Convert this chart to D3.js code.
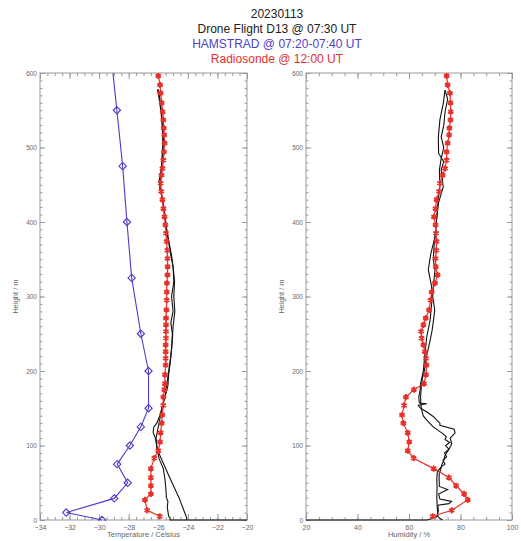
<!DOCTYPE html>
<html>
<head>
<meta charset="utf-8">
<script src="https://cdn.jsdelivr.net/npm/d3@7"></script>
<style>
  body { margin: 0; background: #fff; }
  text { font-family: "Liberation Sans", Arial, sans-serif; }
</style>
</head>
<body>
<script>
// --- data ---
const titleLines = ["20230113", "Drone Flight D13 @ 07:30 UT", "HAMSTRAD @ 07:20-07:40 UT", "Radiosonde @ 12:00 UT"];
const titleColors = ["#222", "#222", "#5140c8", "#e2302c"];

const tempTicks = [-34, -32, -30, -28, -26, -24, -22, -20];
const humTicks = [20, 40, 60, 80, 100];
const heightTicks = [0, 100, 200, 300, 400, 500, 600];

// HAMSTRAD temperature profile
const hamHeight = [0, 10, 29, 50, 75, 100, 125, 150, 200, 250, 325, 400, 475, 550, 625];
const hamTemp = [-29.8, -32.22, -28.98, -28.07, -28.78, -27.92, -27.18, -26.66, -26.66, -27.18, -27.8, -28.12, -28.41, -28.8, -29.2];

// Radiosonde
const rsHeight = [5, 13, 27, 35, 46, 57, 69, 83, 93, 105, 117, 130, 141, 154, 165, 175, 183, 195, 208, 217, 226, 235, 244, 253, 262, 271, 282, 295, 306, 318, 329, 340, 351, 362, 374, 385, 396, 407, 418, 430, 441, 452, 463, 472, 483, 494, 506, 517, 526, 537, 548, 560, 573, 584, 596, 608];
const rsTemp = [-25.9, -26.75, -26.9, -26.5, -26.5, -26.5, -26.5, -26.27, -26.0, -25.88, -25.84, -25.77, -25.73, -25.66, -25.66, -25.59, -25.55, -25.55, -25.5, -25.5, -25.5, -25.5, -25.48, -25.48, -25.48, -25.48, -25.45, -25.43, -25.43, -25.42, -25.38, -25.37, -25.38, -25.39, -25.44, -25.48, -25.52, -25.58, -25.65, -25.72, -25.8, -25.84, -25.78, -25.72, -25.66, -25.62, -25.57, -25.6, -25.63, -25.66, -25.7, -25.77, -25.84, -25.88, -26.0, -26.05];
const rsHum = [69.2, 76.6, 82.8, 81.4, 78.3, 75.5, 69.6, 61.8, 59.5, 60.1, 59.5, 57.8, 57.3, 58.1, 58.8, 61.9, 65.8, 66.6, 66.8, 66.6, 66.2, 65.6, 64.9, 64.7, 65.6, 66.5, 67.8, 68.4, 68.8, 70.1, 71.1, 70.4, 70.3, 70.6, 70.7, 70.5, 70.3, 69.7, 70.3, 70.7, 71.7, 72.0, 73.1, 74.0, 74.6, 74.6, 75.0, 75.6, 75.7, 76.1, 76.2, 76.1, 75.9, 75.0, 74.6, 74.2];

// Drone temperature, ascent and descent
const dTempUpH = [0, 0, 3, 5, 17, 25, 30, 40, 55, 69, 82, 92, 100, 110, 118, 125, 130, 140, 150, 165, 180, 195, 210, 230, 250, 265, 280, 300, 320, 340, 355, 370, 390, 410, 430, 445, 452, 470, 500, 520, 545, 560, 578];
const dTempUp = [-20, -25.2, -25.2, -25.3, -25.39, -25.35, -25.45, -25.48, -25.55, -25.66, -25.94, -26.05, -26.1, -26.2, -26.35, -26.3, -26.1, -25.9, -25.75, -25.55, -25.35, -25.3, -25.2, -25.1, -25.05, -25.15, -25.0, -25.1, -24.95, -25.0, -25.1, -25.25, -25.45, -25.55, -25.7, -25.9, -25.85, -25.8, -25.7, -25.7, -25.8, -25.9, -26.05];
const dTempDnH = [578, 560, 540, 515, 495, 470, 455, 440, 420, 400, 380, 360, 340, 320, 300, 280, 260, 240, 220, 200, 185, 170, 155, 140, 125, 110, 96, 60, 30, 3, 0];
const dTempDn = [-26.0, -25.85, -25.75, -25.65, -25.68, -25.8, -25.95, -25.8, -25.65, -25.5, -25.35, -25.2, -25.0, -24.9, -24.95, -24.88, -25.0, -25.05, -25.15, -25.3, -25.4, -25.5, -25.7, -25.85, -26.0, -26.15, -26.1, -25.3, -24.6, -24.08, -24.08];

// Drone humidity, ascent and descent
const dHumUpH = [0, 0, 2, 5, 13, 20, 22, 25, 28, 35, 41, 45, 55, 62, 70, 74, 80, 87, 95, 102, 110, 117, 122, 127, 130, 135, 139, 145, 150, 154, 156, 157, 165, 174, 183, 201, 224, 246, 268, 291, 313, 336, 358, 380, 403, 425, 447, 470, 481, 492, 514, 537, 559, 577];
const dHumUp = [20, 67, 69, 71, 71.4, 71.2, 75.5, 76.5, 72, 71.5, 75, 71.8, 71.7, 71.7, 72.5, 72.7, 73.5, 74, 75.5, 76.6, 76, 77.9, 77.5, 72, 72, 70.5, 69.4, 67, 64.5, 63.6, 66.9, 64, 63.8, 64.3, 64.5, 65.6, 66.2, 66.9, 68.2, 68.8, 68.8, 67.5, 68.5, 70.1, 70.7, 71.4, 73.3, 72.5, 73.5, 71.5, 71.4, 72, 73.3, 74];
const dHumDnH = [577, 565, 548, 530, 514, 500, 485, 470, 447, 435, 415, 395, 370, 350, 336, 315, 300, 282, 268, 255, 246, 230, 215, 201, 190, 180, 165, 155, 148, 140, 134, 125, 117, 112, 108, 104, 100, 95, 90, 85, 80, 75, 72, 65, 55, 45, 30, 15, 5, 2, 0];
const dHumDn = [74, 75, 74, 73.5, 72.5, 73.5, 72.5, 71.8, 72, 71.5, 71, 70.5, 69.8, 69.4, 70.1, 69.5, 69.2, 70, 69.5, 69, 68.5, 67.5, 66.5, 66, 65.2, 64.8, 64.5, 64.6, 64.9, 65.5, 66.9, 69.4, 72.7, 74.5, 74, 75.8, 74.2, 75.5, 73.8, 74.6, 73.2, 74, 72.7, 71, 70.8, 70.9, 70.8, 71, 71.2, 72, 73];

// --- layout ---
const width = 521, height = 541;
const plotTop = 73, plotBottom = 520;
const blue = "#4a3cc6", red = "#e8302a";
const axisGrey = "#999", labelGrey = "#666";

const svg = d3.select("body").append("svg")
  .attr("width", width).attr("height", height);

svg.append("g").selectAll("text")
  .data(titleLines)
  .join("text")
  .attr("x", 277)
  .attr("y", (d, i) => 18 + i * 15)
  .attr("text-anchor", "middle")
  .attr("font-size", "12px")
  .attr("fill", (d, i) => titleColors[i])
  .text(d => d);

const yScale = d3.scaleLinear().domain([0, 600]).range([plotBottom, plotTop]);

function zip(h, v) { return h.map((d, i) => [v[i], d]); }

function panel(id, left, right, domain, ticks, minorStep, xTitle) {
  const x = d3.scaleLinear().domain(domain).range([left, right]);
  const g = svg.append("g").attr("id", id);

  g.append("clipPath").attr("id", id + "-clip")
    .append("rect")
    .attr("x", left).attr("y", plotTop)
    .attr("width", right - left).attr("height", plotBottom - plotTop + 1);

  const minorX = d3.range(domain[0], domain[1] + 1e-9, minorStep);
  const minorY = d3.range(0, 601, 10);

  const axes = [
    [d3.axisBottom(x).tickValues(minorX).tickSize(-3), plotBottom],
    [d3.axisBottom(x).tickValues(ticks).tickSize(-6), plotBottom],
    [d3.axisTop(x).tickValues(minorX).tickSize(-3), plotTop],
    [d3.axisTop(x).tickValues(ticks).tickSize(-6), plotTop]
  ];
  axes.forEach(([ax, y], i) => {
    const a = g.append("g").attr("transform", `translate(0,${y})`)
      .call(ax.tickFormat(i === 1 ? d3.format("d") : ""));
    a.select(".domain").remove();
    a.selectAll("line").attr("stroke", axisGrey);
    a.selectAll("text").style("fill", labelGrey).attr("font-size", "7px").attr("dy", "0.9em")
      .attr("y", 4);
  });

  const yAxes = [
    [d3.axisLeft(yScale).tickValues(minorY).tickSize(-2.5), left, false],
    [d3.axisLeft(yScale).tickValues(heightTicks).tickSize(-5), left, true],
    [d3.axisRight(yScale).tickValues(minorY).tickSize(-2.5), right, false],
    [d3.axisRight(yScale).tickValues(heightTicks).tickSize(-5), right, false]
  ];
  yAxes.forEach(([ax, xp, lab]) => {
    const a = g.append("g").attr("transform", `translate(${xp},0)`)
      .call(ax.tickFormat(lab ? d3.format("d") : ""));
    a.select(".domain").remove();
    a.selectAll("line").attr("stroke", axisGrey);
    a.selectAll("text").style("fill", labelGrey).attr("font-size", "6.5px").attr("x", -3);
  });

  g.append("rect")
    .attr("x", left).attr("y", plotTop)
    .attr("width", right - left).attr("height", plotBottom - plotTop)
    .attr("fill", "none").attr("stroke", axisGrey).attr("stroke-width", 1);

  g.append("text")
    .attr("x", (left + right) / 2).attr("y", 537)
    .attr("text-anchor", "middle").attr("font-size", "7.5px").style("fill", labelGrey)
    .text(xTitle);

  g.append("text")
    .attr("transform", `translate(${left - 22},${(plotTop + plotBottom) / 2}) rotate(-90)`)
    .attr("text-anchor", "middle").attr("font-size", "7.5px").style("fill", labelGrey)
    .text("Height / m");

  const plot = g.append("g").attr("clip-path", `url(#${id}-clip)`);
  return { x, plot };
}

const line = x => d3.line().x(d => x(d[0])).y(d => yScale(d[1]));
const star = d3.symbol().type(d3.symbolAsterisk).size(26);
const diamond = d3.symbol().type(d3.symbolDiamond2).size(34);

function drawBlack(plot, x, data) {
  plot.append("path").datum(data)
    .attr("d", line(x))
    .attr("fill", "none").attr("stroke", "#111").attr("stroke-width", 1.1);
}

function drawRadiosonde(plot, x, data) {
  plot.append("path").datum(data)
    .attr("d", line(x))
    .attr("fill", "none").attr("stroke", red).attr("stroke-width", 1.2);
  plot.selectAll("path.rs").data(data).join("path")
    .attr("class", "rs")
    .attr("transform", d => `translate(${x(d[0])},${yScale(d[1])})`)
    .attr("d", star)
    .attr("fill", "none").attr("stroke", red).attr("stroke-width", 1.9);
}

// left panel: temperature
const tp = panel("temp", 40, 247, [-34, -20], tempTicks, 0.5, "Temperature / Celsius");
drawBlack(tp.plot, tp.x, zip(dTempUpH, dTempUp));
drawBlack(tp.plot, tp.x, zip(dTempDnH, dTempDn));
drawRadiosonde(tp.plot, tp.x, zip(rsHeight, rsTemp));

const hamData = zip(hamHeight, hamTemp);
tp.plot.append("path").datum(hamData)
  .attr("d", line(tp.x))
  .attr("fill", "none").attr("stroke", blue).attr("stroke-width", 1.1);
tp.plot.selectAll("path.ham").data(hamData).join("path")
  .attr("class", "ham")
  .attr("transform", d => `translate(${tp.x(d[0])},${yScale(d[1])})`)
  .attr("d", diamond)
  .attr("fill", "none").attr("stroke", blue).attr("stroke-width", 1.1);

// right panel: humidity
const hp = panel("hum", 306, 512, [20, 100], humTicks, 5, "Humidity / %");
drawBlack(hp.plot, hp.x, zip(dHumUpH, dHumUp));
drawBlack(hp.plot, hp.x, zip(dHumDnH, dHumDn));
drawRadiosonde(hp.plot, hp.x, zip(rsHeight, rsHum));
</script>
</body>
</html>
